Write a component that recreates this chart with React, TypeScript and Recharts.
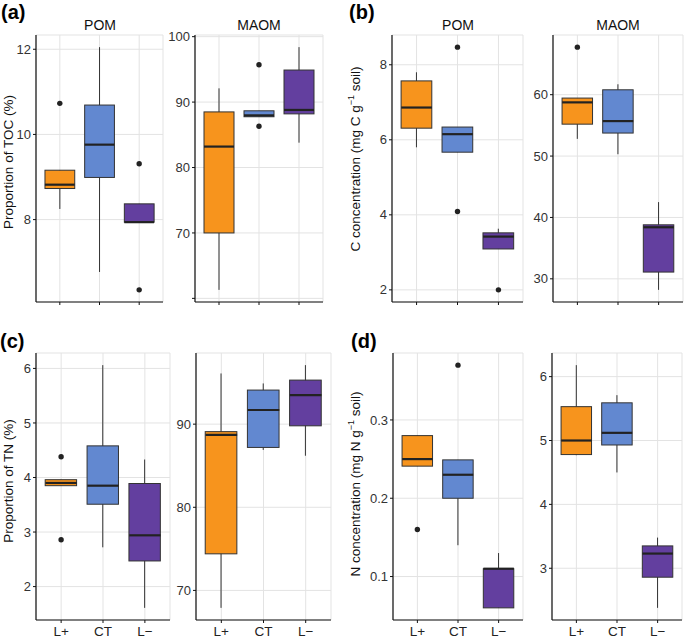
import React from 'react';
import { ComposedChart, Bar, Line, XAxis, YAxis, CartesianGrid } from 'recharts';

const groups = ['L+', 'CT', 'L\u2212'];
const fills = ['#F7941D', '#6288D0', '#633F9F'];

// each row: [lower whisker, Q1, median, Q3, upper whisker] for L+, CT, L-
const tocPom = [[8.25, 8.73, 8.82, 9.16, 9.16], [6.77, 8.99, 9.76, 10.69, 12.05], [7.94, 7.94, 7.94, 8.37, 8.37]];
const tocPomOut = [[10.73], [], [9.31, 6.35]];
const tocMaom = [[61.3, 70.0, 83.2, 88.5, 92.1], [87.76, 87.76, 87.97, 88.67, 88.67], [83.8, 88.2, 88.8, 94.9, 98.4]];
const tocMaomOut = [[], [95.7, 86.3], []];

const cPom = [[5.8, 6.31, 6.86, 7.57, 7.8], [5.67, 5.67, 6.15, 6.34, 6.34], [3.09, 3.09, 3.42, 3.52, 3.63]];
const cPomOut = [[], [8.47, 4.09], [2.0]];
const cMaom = [[52.8, 55.2, 58.75, 59.45, 59.45], [50.3, 53.75, 55.7, 60.8, 61.7], [28.2, 31.1, 38.4, 38.8, 42.5]];
const cMaomOut = [[67.75], [], []];

const tnPom = [[3.85, 3.85, 3.9, 3.96, 3.96], [2.72, 3.51, 3.85, 4.58, 6.06], [1.61, 2.47, 2.94, 3.89, 4.33]];
const tnPomOut = [[4.38, 2.86], [], []];
const tnMaom = [[67.9, 74.4, 88.7, 89.1, 96.1], [86.9, 87.2, 91.7, 94.1, 94.9], [86.2, 89.8, 93.5, 95.3, 97.1]];
const tnMaomOut = [[], [], []];

const nPom = [[0.241, 0.241, 0.25, 0.28, 0.28], [0.14, 0.2, 0.23, 0.249, 0.249], [0.06, 0.06, 0.11, 0.11, 0.13]];
const nPomOut = [[0.16], [0.37], []];
const nMaom = [[4.77, 4.78, 5.0, 5.53, 6.18], [4.5, 4.93, 5.12, 5.59, 5.71], [2.38, 2.86, 3.23, 3.35, 3.48]];
const nMaomOut = [[], [], []];

// major / minor y breaks
const tocPomTicks = [8, 10, 12];
const tocPomMinor = [7, 9, 11];
const tocMaomTicks = [60, 70, 80, 90, 100];
const tocMaomMinor = [65, 75, 85, 95];
const cPomTicks = [2, 4, 6, 8];
const cPomMinor = [3, 5, 7];
const cMaomTicks = [30, 40, 50, 60];
const cMaomMinor = [35, 45, 55, 65];
const tnPomTicks = [2, 3, 4, 5, 6];
const tnPomMinor = [1.5, 2.5, 3.5, 4.5, 5.5];
const tnMaomTicks = [70, 80, 90];
const tnMaomMinor = [75, 85, 95];
const nPomTicks = [0.1, 0.2, 0.3];
const nPomMinor = [0.05, 0.15, 0.25, 0.35];
const nMaomTicks = [3, 4, 5, 6];
const nMaomMinor = [2.5, 3.5, 4.5, 5.5];

const extent = (stats: number[][], outs: number[][]): [number, number] => {
  const all = [...stats.flat(), ...outs.flat()];
  const lo = Math.min(...all);
  const hi = Math.max(...all);
  const pad = (hi - lo) * 0.05;
  return [lo - pad, hi + pad];
};

type PanelProps = {
  stats: number[][];
  outs: number[][];
  ticks: number[];
  minor: number[];
  hide?: number[];
  left: number;
  right: number;
  top: number;
  bottom: number;
  showX: boolean;
};

const Panel = ({ stats, outs, ticks, minor, hide = [], left, right, top, bottom, showX }: PanelProps) => {
  const yw = 36;
  const mt = 10;
  const mr = 4;
  const xh = showX ? 22 : 8;
  const w = right - left;
  const h = bottom - top;
  const unit = w / 3.2;
  const bw = unit * 0.75;
  const pad = unit * 0.1;

  const data = groups.map((g, i) => ({
    g,
    whisker: [stats[i][0], stats[i][4]],
    box: [stats[i][1], stats[i][3]],
    med: stats[i][2],
    o1: outs[i][0] ?? null,
    o2: outs[i][1] ?? null,
  }));

  const minorLines = ({ yAxis }: any) => {
    const s = yAxis?.scale;
    if (typeof s !== 'function') return [];
    return minor.map((v) => s(v));
  };

  const whiskerShape = (p: any) => {
    const cx = p.x + p.width / 2;
    return <line x1={cx} x2={cx} y1={p.y} y2={p.y + p.height} stroke="#333" strokeWidth={1} />;
  };

  const boxShape = (p: any) => {
    const y0 = Math.min(p.y, p.y + p.height);
    return (
      <rect x={p.x} y={y0} width={p.width} height={Math.abs(p.height)}
        fill={fills[p.index]} stroke="#333" strokeWidth={1} />
    );
  };

  const medianDot = (p: any) => {
    if (p.cy == null || isNaN(p.cy)) return <g key={`m${p.index}`} />;
    return (
      <line key={`m${p.index}`} x1={p.cx - bw / 2} x2={p.cx + bw / 2} y1={p.cy} y2={p.cy}
        stroke="#222" strokeWidth={2.2} />
    );
  };

  const outlierDot = (p: any) => {
    if (p.cy == null || isNaN(p.cy) || p.value == null) return <g key={`o${p.dataKey}${p.index}`} />;
    return <circle key={`o${p.dataKey}${p.index}`} cx={p.cx} cy={p.cy} r={2.7} fill="#222" />;
  };

  return (
    <div style={{ position: 'absolute', left: left - yw, top: top - mt }}>
      <ComposedChart width={yw + w + mr} height={mt + h + xh} data={data}
        margin={{ top: mt, right: mr, bottom: 0, left: 0 }}>
        <CartesianGrid xAxisId="main" vertical={false} stroke="#f0f0f0" strokeWidth={1}
          horizontalCoordinatesGenerator={minorLines} />
        <CartesianGrid xAxisId="main" stroke="#e3e3e3" strokeWidth={1} />
        <XAxis xAxisId="main" dataKey="g" padding={{ left: pad, right: pad }} height={xh}
          axisLine={{ stroke: '#111', strokeWidth: 1.2 }} tickLine={{ stroke: '#111' }}
          tickSize={3} tickMargin={3} interval={0}
          tick={{ fontSize: 13.5, fill: '#222' }}
          tickFormatter={showX ? undefined : () => ''} />
        <XAxis xAxisId="w" dataKey="g" padding={{ left: pad, right: pad }} hide />
        <YAxis type="number" domain={extent(stats, outs)} ticks={ticks} interval={0} width={yw}
          axisLine={{ stroke: '#111', strokeWidth: 1.2 }} tickLine={{ stroke: '#111' }}
          tickSize={3} tickMargin={2} tick={{ fontSize: 13, fill: '#333' }}
          tickFormatter={(v: number) => (hide.includes(v) ? '' : String(v))} />
        <Bar xAxisId="w" dataKey="whisker" barSize={bw} shape={whiskerShape} isAnimationActive={false} />
        <Bar xAxisId="main" dataKey="box" barSize={bw} shape={boxShape} isAnimationActive={false} />
        <Line xAxisId="main" dataKey="med" stroke="none" dot={medianDot} activeDot={false} isAnimationActive={false} />
        <Line xAxisId="main" dataKey="o1" stroke="none" dot={outlierDot} activeDot={false} isAnimationActive={false} />
        <Line xAxisId="main" dataKey="o2" stroke="none" dot={outlierDot} activeDot={false} isAnimationActive={false} />
      </ComposedChart>
    </div>
  );
};

const Strip = ({ x, text }: { x: number; text: string }) => (
  <div style={{ position: 'absolute', left: x - 50, top: 17, width: 100, textAlign: 'center', fontSize: 14, lineHeight: '16px', color: '#111' }}>
    {text}
  </div>
);

const Tag = ({ x, y, text }: { x: number; y: number; text: string }) => (
  <div style={{ position: 'absolute', left: x, top: y, fontSize: 20, fontWeight: 'bold', lineHeight: '24px', color: '#000' }}>
    {text}
  </div>
);

const YTitle = ({ x, y, children }: { x: number; y: number; children: React.ReactNode }) => (
  <div style={{ position: 'absolute', left: x, top: y, transform: 'translate(-50%, -50%) rotate(-90deg)', whiteSpace: 'nowrap', fontSize: 13.5, lineHeight: '15px', color: '#111' }}>
    {children}
  </div>
);

const sup = { fontSize: 9, verticalAlign: 'super', lineHeight: 0 } as React.CSSProperties;

export default function App() {
  return (
    <div style={{ position: 'absolute', left: 0, top: 0, width: 685, height: 638, background: '#fff', fontFamily: '"Liberation Sans", Arial, sans-serif', overflow: 'hidden' }}>
      <Tag x={1} y={0} text="(a)" />
      <Tag x={349} y={0} text="(b)" />
      <Tag x={0} y={329} text="(c)" />
      <Tag x={351} y={329} text="(d)" />

      <Strip x={100} text="POM" />
      <Strip x={259} text="MAOM" />
      <Strip x={458} text="POM" />
      <Strip x={618} text="MAOM" />

      <YTitle x={8} y={162}>Proportion of TOC (%)</YTitle>
      <YTitle x={355} y={159}>C concentration (mg C g<span style={sup}>−1</span> soil)</YTitle>
      <YTitle x={8} y={481}>Proportion of TN (%)</YTitle>
      <YTitle x={355} y={484}>N concentration (mg N g<span style={sup}>−1</span> soil)</YTitle>

      <Panel stats={tocPom} outs={tocPomOut} ticks={tocPomTicks} minor={tocPomMinor}
        left={36} right={163} top={35} bottom={302} showX={false} />
      <Panel stats={tocMaom} outs={tocMaomOut} ticks={tocMaomTicks} minor={tocMaomMinor} hide={[60]}
        left={195} right={323} top={35} bottom={302} showX={false} />
      <Panel stats={cPom} outs={cPomOut} ticks={cPomTicks} minor={cPomMinor}
        left={392} right={523} top={35} bottom={302} showX={false} />
      <Panel stats={cMaom} outs={cMaomOut} ticks={cMaomTicks} minor={cMaomMinor}
        left={553} right={683} top={35} bottom={302} showX={false} />

      <Panel stats={tnPom} outs={tnPomOut} ticks={tnPomTicks} minor={tnPomMinor}
        left={36} right={170} top={353} bottom={620} showX />
      <Panel stats={tnMaom} outs={tnMaomOut} ticks={tnMaomTicks} minor={tnMaomMinor}
        left={196} right={331} top={353} bottom={620} showX />
      <Panel stats={nPom} outs={nPomOut} ticks={nPomTicks} minor={nPomMinor}
        left={393} right={523} top={353} bottom={620} showX />
      <Panel stats={nMaom} outs={nMaomOut} ticks={nMaomTicks} minor={nMaomMinor}
        left={552} right={682} top={353} bottom={620} showX />
    </div>
  );
}
